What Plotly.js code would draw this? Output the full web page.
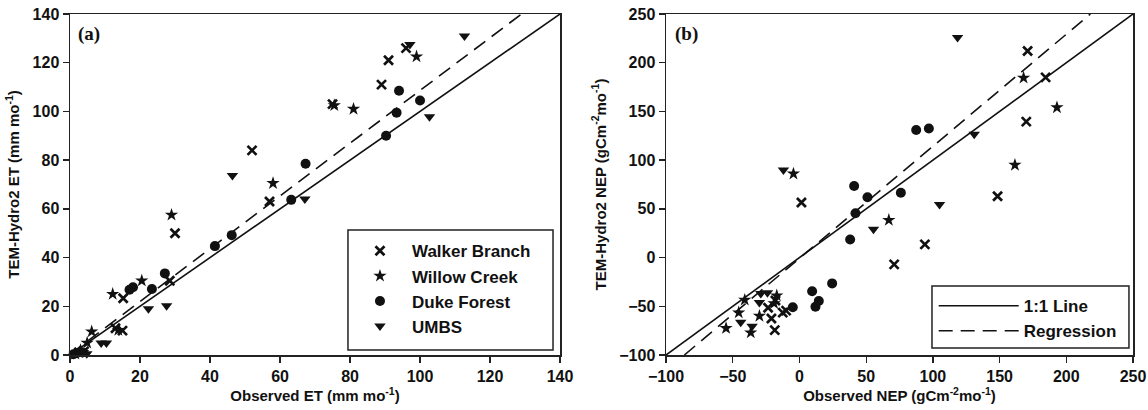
<!DOCTYPE html>
<html>
<head>
<meta charset="utf-8">
<script src="https://cdn.plot.ly/plotly-3.0.1.min.js"></script>
<style>html,body{margin:0;padding:0;background:#fff;}#chart{width:1148px;height:410px;}</style>
</head>
<body>
<div id="chart"></div>
<script>
// ---------- Panel (a): ET (mm mo-1) ----------
const walkerET_obs = [96, 91, 89, 75, 52, 57, 30, 28.5, 15.2, 13, 15, 4, 2.5];
const walkerET_mod = [126, 121, 111, 103, 84, 63, 50, 30.5, 23.3, 11, 10, 1.5, 1];
const willowET_obs = [99, 75.5, 81, 58, 29, 20.5, 12.2, 6.2, 13.8, 4.9, 3, 1.5];
const willowET_mod = [122.5, 102.5, 101, 70.5, 57.5, 30.5, 25, 9.6, 10.2, 5, 2, 0.5];
const dukeET_obs = [94, 100, 93.3, 90.3, 67.3, 63.2, 46.2, 41.4, 27.1, 23.4, 17, 18, 2, 1];
const dukeET_mod = [108.5, 104.5, 99.5, 90, 78.5, 63.7, 49.2, 44.7, 33.5, 27.1, 26.8, 27.8, 0.8, 0.3];
const umbsET_obs = [112.7, 97.1, 102.7, 46.4, 67.1, 22.4, 27.6, 8.9, 10.4, 3.8, 4.8];
const umbsET_mod = [131, 127.5, 97.8, 73.7, 64, 19, 20.2, 4.9, 4.9, 1, 0.5];
const etRange = [0, 140];
const etRegSlope = 1.083, etRegIntercept = 0.3;
const etTicks = [0, 20, 40, 60, 80, 100, 120, 140];

// ---------- Panel (b): NEP (gC m-2 mo-1) ----------
const walkerNEP_obs = [171, 184.5, 170, 148.5, 94, 71, 1.5, -23.5, -18, -12.5, -10, -21, -18.5];
const walkerNEP_mod = [212, 185, 139.5, 63, 13.5, -7, 56.5, -51.5, -44, -56.5, -54.5, -62.5, -74.5];
const willowNEP_obs = [168, 193, 161.5, -4.5, 67, -41, -17, -19, -30, -45.5, -55, -36.5];
const willowNEP_mod = [184.5, 154, 95, 86, 38.5, -43.5, -39, -47, -60, -56.5, -72.5, -77];
const dukeNEP_obs = [87.5, 97, 41, 51, 76, 42, 38, 24.5, 9.5, 14.5, 12, -5];
const dukeNEP_mod = [131, 132.5, 73.5, 62, 66.5, 45.5, 18.5, -26.5, -34.5, -44.5, -50.5, -51];
const umbsNEP_obs = [118.5, 131, 105, 55.5, -12, -29, -24, -30, -44, -35.5];
const umbsNEP_mod = [226, 126.5, 54.5, 29, 90, -37, -36, -46, -66.5, -70.5];
const nepRange = [-100, 250];
const nepRegSlope = 1.15, nepRegIntercept = -0.8;
const nepTicks = [-100, -50, 0, 50, 100, 150, 200, 250];

const siteNames = ['Walker Branch', 'Willow Creek', 'Duke Forest', 'UMBS'];
const lineNames = ['1:1 Line', 'Regression'];

// ---------- helpers ----------
function regLine(slope, icpt, range) {
  const x0 = Math.max(range[0], (range[0] - icpt) / slope);
  const x1 = Math.min(range[1], (range[1] - icpt) / slope);
  return {x: [x0, x1], y: [slope * x0 + icpt, slope * x1 + icpt]};
}
const markerStyles = [
  {symbol: 'x-thin-open', size: 9, color: '#111', line: {width: 2.7, color: '#111'}},
  {symbol: 'star', size: 10, color: '#111', line: {width: 0}},
  {symbol: 'circle', size: 10, color: '#111', line: {width: 0}},
  {symbol: 'triangle-down', size: 10, color: '#111', line: {width: 0}}
];
const FONT = 'Arial, "Liberation Sans", sans-serif';
const ink = '#111';

function siteTraces(obs, mod, xa, ya, showLeg) {
  return obs.map((o, i) => ({
    type: 'scatter', mode: 'markers', x: o, y: mod[i], xaxis: xa, yaxis: ya,
    name: siteNames[i], marker: markerStyles[i], showlegend: showLeg,
    legend: 'legend', cliponaxis: false
  }));
}

const traces = [];
const etReg = regLine(etRegSlope, etRegIntercept, etRange);
traces.push({type:'scatter', mode:'lines', x: etRange, y: etRange, xaxis:'x', yaxis:'y',
  line:{color: ink, width:1.6}, showlegend:false, hoverinfo:'skip'});
traces.push({type:'scatter', mode:'lines', x: etReg.x, y: etReg.y, xaxis:'x', yaxis:'y',
  line:{color: ink, width:1.6, dash:'14px,8px'}, showlegend:false, hoverinfo:'skip'});
traces.push(...siteTraces([walkerET_obs, willowET_obs, dukeET_obs, umbsET_obs],
  [walkerET_mod, willowET_mod, dukeET_mod, umbsET_mod], 'x', 'y', true));

const nepReg = regLine(nepRegSlope, nepRegIntercept, nepRange);
traces.push({type:'scatter', mode:'lines', x: nepRange, y: nepRange, xaxis:'x2', yaxis:'y2',
  name: lineNames[0], line:{color: ink, width:1.6}, legend:'legend2', hoverinfo:'skip'});
traces.push({type:'scatter', mode:'lines', x: nepReg.x, y: nepReg.y, xaxis:'x2', yaxis:'y2',
  name: lineNames[1], line:{color: ink, width:1.6, dash:'14px,8px'}, legend:'legend2', hoverinfo:'skip'});
traces.push(...siteTraces([walkerNEP_obs, willowNEP_obs, dukeNEP_obs, umbsNEP_obs],
  [walkerNEP_mod, willowNEP_mod, dukeNEP_mod, umbsNEP_mod], 'x2', 'y2', false));

const tickFont = {family: FONT, size: 16, color: ink, weight: 'bold'};
const titleFont = {family: FONT, size: 15, color: ink, weight: 'bold'};
function axis(extra) {
  return Object.assign({
    showgrid: false, zeroline: false, showline: true, mirror: true,
    linecolor: '#222', linewidth: 1.5, ticks: 'outside', ticklen: 6, tickwidth: 1.3,
    tickcolor: '#222', tickfont: tickFont, fixedrange: true
  }, extra);
}

const legFont = {family: FONT, size: 17, color: ink, weight: 'bold'};
const layout = {
  width: 1148, height: 410,
  margin: {l: 70, r: 15, t: 14, b: 55},
  paper_bgcolor: '#fff', plot_bgcolor: '#fff',
  font: {family: FONT, color: ink},
  xaxis: axis({domain: [0, 0.461], range: etRange, tickvals: etTicks, anchor: 'y',
    title: {text: 'Observed ET (mm mo<sup>-1</sup>)', font: titleFont, standoff: 5}}),
  yaxis: axis({domain: [0, 1], range: etRange, tickvals: etTicks, anchor: 'x',
    title: {text: 'TEM-Hydro2 ET (mm mo<sup>-1</sup>)', font: titleFont, standoff: 9}}),
  xaxis2: axis({domain: [0.5607, 1], range: nepRange, tickvals: nepTicks, anchor: 'y2',
    title: {text: 'Observed NEP (gCm<sup>-2</sup>mo<sup>-1</sup>)', font: titleFont, standoff: 5}}),
  yaxis2: axis({domain: [0, 1], range: nepRange, tickvals: nepTicks, anchor: 'x2',
    title: {text: 'TEM-Hydro2 NEP (gCm<sup>-2</sup>mo<sup>-1</sup>)', font: titleFont, standoff: 9}}),
  legend: {x: 0.2615, y: 0.357, xanchor: 'left', yanchor: 'top', xref: 'paper', yref: 'paper',
    bgcolor: 'rgba(0,0,0,0)', borderwidth: 0,
    font: legFont, itemwidth: 54, tracegroupgap: 0},
  legend2: {x: 0.8125, y: 0.196, xanchor: 'left', yanchor: 'top', xref: 'paper', yref: 'paper',
    bgcolor: 'rgba(0,0,0,0)', borderwidth: 0,
    font: legFont, itemwidth: 80},
  shapes: [
    {type: 'rect', xref: 'paper', yref: 'paper', x0: 0.2615, x1: 0.4544, y0: 0.0147, y1: 0.3666,
     line: {color: '#222', width: 1.5}, fillcolor: '#fff', layer: 'above'},
    {type: 'rect', xref: 'paper', yref: 'paper', x0: 0.8109, x1: 0.9962, y0: 0.0205, y1: 0.2023,
     line: {color: '#222', width: 1.5}, fillcolor: '#fff', layer: 'above'}
  ],
  annotations: [
    {text: '(a)', xref: 'x domain', yref: 'y domain', x: 0.012, y: 0.94, xanchor: 'left', yanchor: 'middle',
     showarrow: false, font: {family: '"Times New Roman", "Liberation Serif", serif', size: 19, color: ink, weight: 'bold'}},
    {text: '(b)', xref: 'x2 domain', yref: 'y2 domain', x: 0.016, y: 0.94, xanchor: 'left', yanchor: 'middle',
     showarrow: false, font: {family: '"Times New Roman", "Liberation Serif", serif', size: 19, color: ink, weight: 'bold'}}
  ],
  showlegend: true
};

Plotly.newPlot('chart', traces, layout, {staticPlot: true, displayModeBar: false});
</script>
</body>
</html>
